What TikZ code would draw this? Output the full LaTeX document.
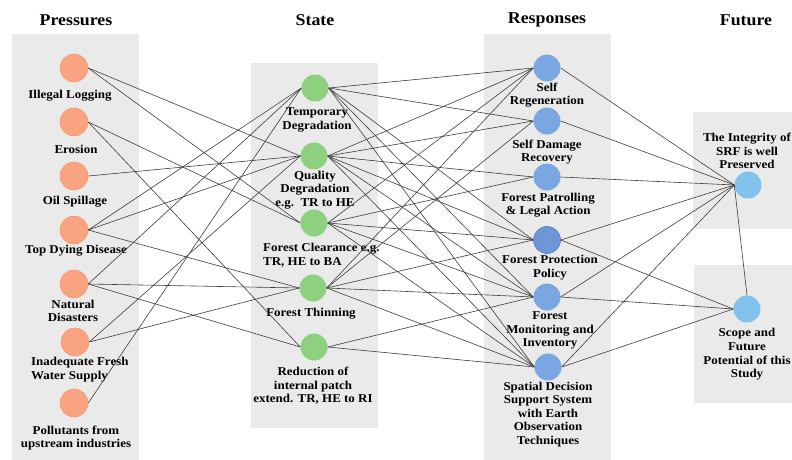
\documentclass[tikz,border=0pt]{standalone}
\usepackage{fontspec}
\setmainfont{Liberation Serif}[FakeStretch=1.08]
\definecolor{bggray}{RGB}{234,234,234}
\definecolor{pfill}{RGB}{250,163,128}
\definecolor{pdraw}{RGB}{246,150,112}
\definecolor{sfill}{RGB}{140,208,128}
\definecolor{rfill}{RGB}{122,166,226}
\definecolor{rdark}{RGB}{112,150,218}
\definecolor{rdraw}{RGB}{84,116,196}
\definecolor{ffill}{RGB}{128,194,236}
\definecolor{edgecol}{RGB}{60,60,60}
\begin{document}
\begin{tikzpicture}[x=1pt,y=-1pt,
  lab/.style={font=\bfseries\fontsize{12}{13.6}\selectfont, align=center, inner sep=0pt},
  labl/.style={font=\bfseries\fontsize{12}{13.6}\selectfont, align=left, inner sep=0pt},
  ttl/.style={font=\bfseries\fontsize{16.5}{19}\selectfont, inner sep=0pt},
  pc/.style={circle, minimum size=28pt, inner sep=0pt, fill=pfill, draw=pdraw, line width=0.5pt},
  sc/.style={circle, minimum size=27pt, inner sep=0pt, fill=sfill, draw=none},
  rc/.style={circle, minimum size=27pt, inner sep=0pt, fill=rfill, draw=none},
  rcd/.style={circle, minimum size=27pt, inner sep=0pt, fill=rdark, draw=rdraw, line width=0.6pt},
  fc/.style={circle, minimum size=27pt, inner sep=0pt, fill=ffill, draw=none},
  bg/.style={fill=bggray, draw=none},
  edge/.style={draw=edgecol, line width=0.6pt}]
\useasboundingbox (0,0) rectangle (792,460);
% background panels
\fill[bg] (12,34) rectangle (139,460);
\fill[bg] (251,63) rectangle (378,428);
\fill[bg] (484,34) rectangle (611,460);
\fill[bg] (693,112) rectangle (792,229);
\fill[bg] (694,265) rectangle (792,403);
% titles
\node[ttl] (tp) at (76,20) {Pressures};
\node[ttl] (ts) at (315,20) {State};
\node[ttl] (tr) at (547,20) {Responses};
\node[ttl] (tf) at (746,20) {Future};
% pressures
\node[pc] (p1) at (74,68) {};
\node[pc] (p2) at (74,122) {};
\node[pc] (p3) at (74,176) {};
\node[pc] (p4) at (74,230) {};
\node[pc] (p5) at (74,284) {};
\node[pc] (p6) at (75,342) {};
\node[pc] (p7) at (74,403) {};
\node[lab] (lp1) at (70,96) {Illegal Logging};
\node[lab] (lp2) at (76,149) {Erosion};
\node[lab] (lp3) at (75,202) {Oil Spillage};
\node[lab] (lp4) at (76,251) {Top Dying Disease};
\node[lab] (lp5) at (73,311) {Natural\\Disasters};
\node[labl, anchor=west] (lp6) at (31,369.5) {Inadequate Fresh\\Water Supply};
\node[lab] (lp7) at (76,438) {Pollutants from\\upstream industries};
% state
\node[sc] (s1) at (315,88) {};
\node[sc] (s2) at (314,156) {};
\node[sc] (s3) at (314,223) {};
\node[sc] (s4) at (313,288) {};
\node[sc] (s5) at (314,347) {};
\node[lab] (ls1) at (317,120) {Temporary\\Degradation};
\node[lab] (ls2) at (315,190) {Quality\\Degradation\\e.g.\ \ TR to HE};
\node[labl, anchor=west] (ls3) at (263,255) {Forest Clearance e.g.\\TR, HE to BA};
\node[lab] (ls4) at (311,314) {Forest Thinning};
\node[lab] (ls5) at (313,386) {Reduction of\\internal patch\\extend. TR, HE to RI};
% responses
\node[rc] (r1) at (547,68) {};
\node[rc] (r2) at (547,121) {};
\node[rc] (r3) at (547,177) {};
\node[rcd] (r4) at (547,240) {};
\node[rc] (r5) at (547,297) {};
\node[rc] (r6) at (548,367) {};
\node[lab] (lr1) at (547,95) {Self\\Regeneration};
\node[lab] (lr2) at (547,152) {Self Damage\\Recovery};
\node[lab] (lr3) at (548,205) {Forest Patrolling\\\& Legal Action};
\node[lab] (lr4) at (550,267.5) {Forest Protection\\Policy};
\node[lab] (lr5) at (550,330.5) {Forest\\Monitoring and\\Inventory};
\node[lab] (lr6) at (548,414.5) {Spatial Decision\\Support System\\with Earth\\Observation\\Techniques};
% future
\node[fc] (f1) at (748,185) {};
\node[fc] (f2) at (747,309) {};
\node[lab] (lf1) at (747,151) {The Integrity of\\SRF is well\\Preserved};
\node[lab] (lf2) at (747,354.5) {Scope and\\Future\\Potential of this\\Study};
% pressures -> state
\foreach \a/\b in {p1/s2,p1/s3,p2/s3,p2/s5,p3/s2,p4/s1,p4/s2,p4/s4,p5/s1,p5/s4,p5/s5,p6/s2,p6/s4,p7/s1}
  \draw[edge] (\a.east) -- (\b.west);
% state -> responses
\foreach \a/\b in {s1/r1,s1/r2,s1/r4,s1/r5,s1/r6,
                   s2/r1,s2/r2,s2/r3,s2/r4,s2/r5,s2/r6,
                   s3/r1,s3/r3,s3/r4,s3/r5,s3/r6,
                   s4/r1,s4/r2,s4/r4,s4/r5,s4/r6,
                   s5/r5,s5/r6}
  \draw[edge] (\a.east) -- (\b.west);
% responses -> future
\foreach \a in {r1,r2,r3,r4,r5,r6}
  \draw[edge] (\a.east) -- (f1.west);
\foreach \a in {r4,r5,r6}
  \draw[edge] (\a.east) -- (f2.west);
\draw[edge] (f1.west) -- (f2.north);
\end{tikzpicture}
\end{document}
